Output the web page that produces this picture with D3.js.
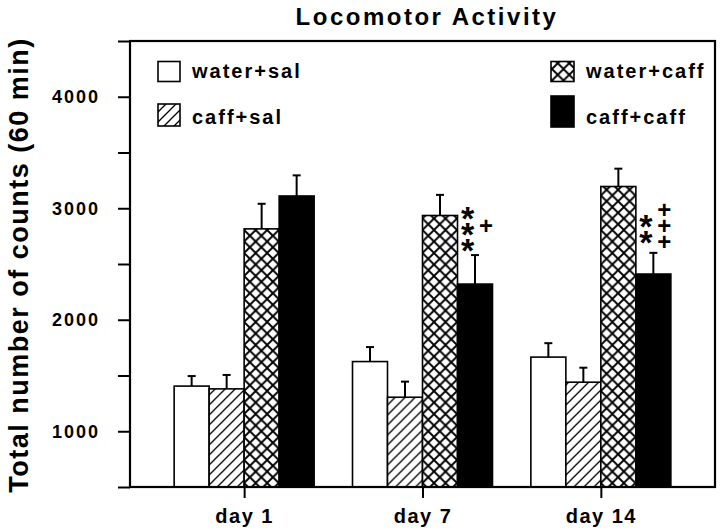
<!DOCTYPE html>
<html>
<head>
<meta charset="utf-8">
<script src="https://cdn.jsdelivr.net/npm/d3@7"></script>
<style>
  html, body { margin: 0; padding: 0; background: #fff; }
  svg { display: block; font-family: "Liberation Sans", Arial, Helvetica, sans-serif; }
</style>
</head>
<body>
<svg id="chart" width="720" height="531"></svg>
<script>
// ---------------- data ----------------
const days = ["day 1", "day 7", "day 14"];
const seriesNames = ["water+sal", "caff+sal", "water+caff", "caff+caff"];
const waterSal      = [1405, 1625, 1665];
const waterSalErr   = [90, 130, 125];
const caffSal       = [1380, 1305, 1440];
const caffSalErr    = [125, 140, 130];
const waterCaff     = [2815, 2935, 3195];
const waterCaffErr  = [225, 185, 160];
const caffCaff      = [3110, 2320, 2410];
const caffCaffErr   = [185, 260, 190];
const yTickValues   = [1000, 2000, 3000, 4000];
const yAllTicks     = [500, 1000, 1500, 2000, 2500, 3000, 3500, 4000, 4500];
const starCounts    = [0, 3, 2];   // "*" marks beside caff+caff
const plusCounts    = [0, 1, 3];   // "+" marks beside caff+caff
const markLevel     = 2840;        // value level where marks are centred
const title = "Locomotor Activity";
const yLabel = "Total number of counts (60 min)";

const seriesValues = [waterSal, caffSal, waterCaff, caffCaff];
const seriesErrors = [waterSalErr, caffSalErr, waterCaffErr, caffCaffErr];

// ---------------- layout ----------------
const L = 130, R = 715, T = 41, B = 487;
const svg = d3.select("#chart");

const x = d3.scalePoint().domain(days).range([L, R]).padding(0.64);
const xs = d3.scaleBand().domain(seriesNames).range([-70, 70]).padding(0);
const y = d3.scaleLinear().domain([500, 4500]).range([B, T]);

// patterns
const defs = svg.append("defs");
const hatch = defs.append("pattern").attr("id", "hatch")
  .attr("patternUnits", "userSpaceOnUse").attr("width", 10).attr("height", 10);
hatch.append("rect").attr("width", 10).attr("height", 10).attr("fill", "#fff");
hatch.append("path").attr("d", "M-2,12 L12,-2 M-7,7 L7,-7 M3,17 L17,3")
  .attr("stroke", "#000").attr("stroke-width", 1.3).attr("fill", "none");

const cross = defs.append("pattern").attr("id", "cross")
  .attr("patternUnits", "userSpaceOnUse").attr("width", 11.5).attr("height", 11.5);
cross.append("rect").attr("width", 11.5).attr("height", 11.5).attr("fill", "#fff");
cross.append("path").attr("d", "M0,0 L11.5,11.5 M0,11.5 L11.5,0")
  .attr("stroke", "#000").attr("stroke-width", 1.9).attr("fill", "none");

const fills = ["#fff", "url(#hatch)", "url(#cross)", "#000"];

// title
svg.append("text").attr("x", 427).attr("y", 25)
  .attr("text-anchor", "middle").attr("font-size", 24).attr("font-weight", "bold")
  .attr("letter-spacing", 2.5).text(title);

// y label
svg.append("text")
  .attr("transform", "translate(28,265) rotate(-90)")
  .attr("text-anchor", "middle").attr("font-size", 27).attr("font-weight", "bold")
  .attr("letter-spacing", 1.5).text(yLabel);

// bars
const groups = svg.append("g").selectAll("g").data(days).join("g")
  .attr("transform", d => `translate(${x(d)},0)`);

seriesNames.forEach((s, si) => {
  const cx = xs(s) + xs.bandwidth() / 2;
  groups.append("line")
    .attr("x1", cx).attr("x2", cx)
    .attr("y1", (d, i) => y(seriesValues[si][i]))
    .attr("y2", (d, i) => y(seriesValues[si][i] + seriesErrors[si][i]))
    .attr("stroke", "#000").attr("stroke-width", 2);
  groups.append("line")
    .attr("x1", cx - 4).attr("x2", cx + 4)
    .attr("y1", (d, i) => y(seriesValues[si][i] + seriesErrors[si][i]))
    .attr("y2", (d, i) => y(seriesValues[si][i] + seriesErrors[si][i]))
    .attr("stroke", "#000").attr("stroke-width", 2);
  groups.append("rect")
    .attr("x", xs(s)).attr("width", xs.bandwidth())
    .attr("y", (d, i) => y(seriesValues[si][i]))
    .attr("height", (d, i) => B - y(seriesValues[si][i]))
    .attr("fill", fills[si]).attr("stroke", "#000").attr("stroke-width", 1.6);
});

// significance marks: one text node per column, glyphs placed with x/y lists
const spacing = 16;
function markColumn(char, n, cx, cy, size, baseShift) {
  if (n <= 0) return;
  const xsList = [], ysList = [];
  for (let k = 0; k < n; k++) {
    xsList.push(cx);
    ysList.push(cy + (k - (n - 1) / 2) * spacing + baseShift);
  }
  svg.append("text").attr("text-anchor", "middle")
    .attr("font-size", size).attr("font-weight", "bold")
    .attr("x", xsList.join(" ")).attr("y", ysList.join(" "))
    .text(char.repeat(n));
}
days.forEach((d, i) => {
  const bx = x(d) + xs("caff+caff");
  const cy = y(markLevel);
  markColumn("*", starCounts[i], bx + 10, cy, 34, 19.5);
  markColumn("+", plusCounts[i], bx + 28.5, cy, 24, 8.3);
});

// axes
const yAxis = d3.axisLeft(y).tickValues(yAllTicks).tickSize(12).tickSizeOuter(0).tickPadding(18)
  .tickFormat(v => yTickValues.includes(v) ? String(v) : "");
const gy = svg.append("g").attr("transform", `translate(${L},0)`).call(yAxis);
gy.select(".domain").remove();
gy.selectAll("line").attr("stroke", "#000").attr("stroke-width", 2);
gy.selectAll("text").attr("font-size", 18).attr("font-weight", "bold")
  .attr("letter-spacing", 2).attr("font-family", null).attr("fill", "#000");

const xAxis = d3.axisBottom(x).tickSize(11).tickSizeOuter(0).tickPadding(11);
const gx = svg.append("g").attr("transform", `translate(0,${B})`).call(xAxis);
gx.select(".domain").remove();
gx.selectAll("line").attr("stroke", "#000").attr("stroke-width", 2);
gx.selectAll("text").attr("font-size", 20).attr("font-weight", "bold")
  .attr("letter-spacing", 1.5).attr("font-family", null).attr("fill", "#000");

// frame
svg.append("rect").attr("x", L).attr("y", T).attr("width", R - L).attr("height", B - T)
  .attr("fill", "none").attr("stroke", "#000").attr("stroke-width", 2.2);

// legend
const legendItems = [
  { name: seriesNames[0], fill: fills[0], bx: 158, by: 61.5, bw: 22, bh: 20, ty: 78 },
  { name: seriesNames[1], fill: fills[1], bx: 158, by: 104, bw: 22, bh: 22, ty: 124 },
  { name: seriesNames[2], fill: fills[2], bx: 551, by: 61.5, bw: 23, bh: 20, ty: 78 },
  { name: seriesNames[3], fill: fills[3], bx: 551, by: 96, bw: 23, bh: 31, ty: 124 }
];
const lg = svg.append("g").selectAll("g").data(legendItems).join("g");
lg.append("rect").attr("x", d => d.bx).attr("y", d => d.by)
  .attr("width", d => d.bw).attr("height", d => d.bh)
  .attr("fill", d => d.fill).attr("stroke", "#000").attr("stroke-width", 1.6);
lg.append("text").attr("x", d => d.bx + d.bw + 12).attr("y", d => d.ty)
  .attr("font-size", 20).attr("font-weight", "bold").attr("letter-spacing", 2)
  .text(d => d.name);
</script>
</body>
</html>
